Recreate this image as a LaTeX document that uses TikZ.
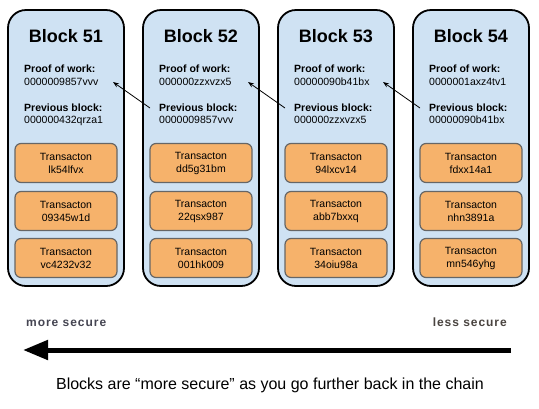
\documentclass[tikz,border=0pt]{standalone}
\usepackage{fontspec}
\setmainfont{Liberation Sans}
\newfontfamily\spacedfont[LetterSpace=8]{Liberation Sans}
\usetikzlibrary{arrows.meta}
\definecolor{blockfill}{HTML}{CFE2F3}
\definecolor{txfill}{HTML}{F6B26B}
\definecolor{txline}{HTML}{666666}
\definecolor{moregray}{HTML}{454552}
\definecolor{lessgray}{HTML}{4A4440}
\begin{document}
\begin{tikzpicture}[x=1pt,y=-1pt,
  block/.style={draw=black, line width=1.8pt, fill=blockfill, rounded corners=18pt,
    minimum width=116pt, minimum height=276pt, inner sep=0pt},
  title/.style={font=\bfseries\fontsize{18}{20}\selectfont, anchor=base, inner sep=0pt},
  lbl/.style={font=\bfseries\fontsize{10.5}{12}\selectfont, anchor=base west, inner sep=0pt},
  val/.style={font=\fontsize{10.5}{12}\selectfont, anchor=base west, inner sep=0pt},
  tx/.style={draw=txline, line width=1.2pt, fill=txfill, rounded corners=6pt,
    minimum width=102pt, minimum height=39pt, align=center,
    font=\fontsize{10.5}{13}\selectfont, inner sep=0pt},
  link/.style={-{Stealth[length=6pt,width=4.5pt]}, line width=0.8pt},
  side/.style={font=\spacedfont\bfseries\fontsize{12}{14}\selectfont, inner sep=0pt},
  big/.style={line width=5pt, -{Triangle[length=25pt,width=19pt]}}
]
\useasboundingbox (0,0) rectangle (539,408);
\fill[white] (0,0) rectangle (539,408);

\foreach \n/\c/\pow/\prev/\ta/\tb/\tc in {
  51/66/0000009857vvv/000000432qrza1/lk54lfvx/09345w1d/vc4232v32,
  52/201/000000zzxvzx5/0000009857vvv/dd5g31bm/22qsx987/001hk009,
  53/336/00000090b41bx/000000zzxvzx5/94lxcv14/abb7bxxq/34oiu98a,
  54/471/0000001axz4tv1/00000090b41bx/fdxx14a1/nhn3891a/mn546yhg}{
  \node[block] (b\n) at (\c,148) {};
  \node[title] (t\n) at (\c,42) {Block \n};
  \node[lbl] (pwl\n) at (\c-42,72) {Proof of work:};
  \node[val] (pwv\n) at (\c-42,85) {\pow};
  \node[lbl] (pbl\n) at (\c-42,111) {Previous block:};
  \node[val] (pbv\n) at (\c-42,123) {\prev};
  \node[tx] (ta\n) at (\c,163) {Transacton\\\ta};
  \node[tx] (tb\n) at (\c,211) {Transacton\\\tb};
  \node[tx] (tc\n) at (\c,258) {Transacton\\\tc};
  \coordinate (in\n) at (\c+47,82);
  \coordinate (out\n) at (\c-51,108);
}

\draw[link] (out52) -- (in51);
\draw[link] (out53) -- (in52);
\draw[link] (out54) -- (in53);

\node[side, text=moregray, anchor=base west] (more) at (26,326) {more secure};
\node[side, text=lessgray, anchor=base east] (less) at (507,326) {less secure};

\coordinate (arrR) at (511,350);
\coordinate (arrL) at (23,350);
\draw[big] (arrR) -- (arrL);

\node[font=\fontsize{16}{18}\selectfont, anchor=base, inner sep=0pt] (cap) at (270,389)
  {Blocks are “more secure” as you go further back in the chain};
\end{tikzpicture}
\end{document}
